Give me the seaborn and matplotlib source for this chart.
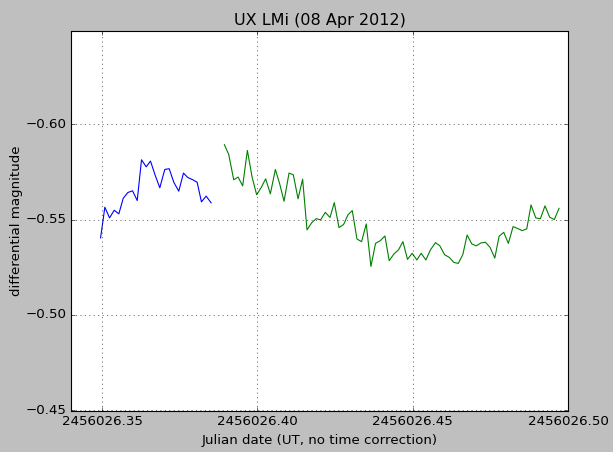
import matplotlib
matplotlib.use("Agg")
import matplotlib.pyplot as plt
import matplotlib.ticker as mticker
import seaborn as sns
import pandas as pd

# Julian date offsets from 2456026 and differential magnitudes
JD0 = 2456026.0

blue_t = [0.34952, 0.35090, 0.35241, 0.35392, 0.35540, 0.35682, 0.35830, 0.35981,
          0.36132, 0.36270, 0.36421, 0.36559, 0.36711, 0.36859, 0.37019, 0.37161,
          0.37309, 0.37469, 0.37621, 0.37759, 0.37920, 0.38061, 0.38199, 0.38350,
          0.38511]
blue_mag = [-0.5404, -0.5565, -0.5509, -0.5549, -0.5530, -0.5612, -0.5642, -0.5651,
            -0.5600, -0.5814, -0.5777, -0.5807, -0.5732, -0.5667, -0.5763, -0.5767,
            -0.5696, -0.5649, -0.5744, -0.5721, -0.5709, -0.5696, -0.5593, -0.5623,
            -0.5588]

green_t = [0.38939, 0.39077, 0.39238, 0.39379, 0.39527, 0.39678, 0.39830, 0.39977,
           0.40129, 0.40267, 0.40418, 0.40579, 0.40717, 0.40859, 0.41019, 0.41158,
           0.41309, 0.41457, 0.41598, 0.41746, 0.41897, 0.42035, 0.42186, 0.42338,
           0.42476, 0.42627, 0.42775, 0.42916, 0.43055, 0.43206, 0.43354, 0.43505,
           0.43656, 0.43804, 0.43955, 0.44106, 0.44244, 0.44395, 0.44543, 0.44685,
           0.44833, 0.44984, 0.45135, 0.45273, 0.45424, 0.45572, 0.45733, 0.45875,
           0.46029, 0.46174, 0.46325, 0.46469, 0.46614, 0.46752, 0.46904, 0.47051,
           0.47193, 0.47341, 0.47492, 0.47643, 0.47781, 0.47932, 0.48080, 0.48232,
           0.48370, 0.48521, 0.48672, 0.48810, 0.48961, 0.49109, 0.49260, 0.49412,
           0.49559, 0.49711]
green_mag = [-0.5893, -0.5842, -0.5709, -0.5723, -0.5677, -0.5863, -0.5723, -0.5630,
             -0.5670, -0.5714, -0.5635, -0.5763, -0.5688, -0.5596, -0.5744, -0.5735,
             -0.5609, -0.5712, -0.5446, -0.5483, -0.5505, -0.5498, -0.5538, -0.5511,
             -0.5589, -0.5458, -0.5474, -0.5525, -0.5547, -0.5398, -0.5384, -0.5477,
             -0.5254, -0.5375, -0.5389, -0.5414, -0.5284, -0.5319, -0.5341, -0.5384,
             -0.5291, -0.5323, -0.5288, -0.5323, -0.5288, -0.5341, -0.5379, -0.5362,
             -0.5315, -0.5302, -0.5275, -0.5270, -0.5316, -0.5419, -0.5372, -0.5362,
             -0.5377, -0.5381, -0.5354, -0.5298, -0.5412, -0.5433, -0.5375, -0.5463,
             -0.5454, -0.5442, -0.5451, -0.5577, -0.5509, -0.5504, -0.5572, -0.5512,
             -0.5500, -0.5559]

x_ticks = [0.35, 0.40, 0.45, 0.50]
y_ticks = [-0.60, -0.55, -0.50, -0.45]

plt.style.use('classic')

fig = plt.figure(figsize=(613 / 80, 452 / 80), dpi=80, facecolor='#bfbfbf')
ax = fig.add_axes([71 / 613, 1 - 411 / 452, (568 - 71) / 613, (411 - 31) / 452])

df_b = pd.DataFrame({'jd': [JD0 + t for t in blue_t], 'mag': blue_mag})
df_g = pd.DataFrame({'jd': [JD0 + t for t in green_t], 'mag': green_mag})

sns.lineplot(data=df_b, x='jd', y='mag', color='b', lw=1, sort=False, estimator=None, ax=ax)
sns.lineplot(data=df_g, x='jd', y='mag', color='g', lw=1, sort=False, estimator=None, ax=ax)

ax.set_xlim(JD0 + 0.340, JD0 + 0.500)
ax.set_ylim(-0.4495, -0.649)
ax.set_xticks([JD0 + t for t in x_ticks])
ax.set_yticks(y_ticks)
ax.xaxis.set_major_formatter(mticker.FuncFormatter(lambda v, p: '%.2f' % v))
ax.yaxis.set_major_formatter(mticker.FuncFormatter(lambda v, p: ('%.2f' % v).replace('-', '\u2212')))
ax.grid(True)

ax.set_title('UX LMi (08 Apr 2012)')
ax.set_xlabel('Julian date (UT, no time correction)')
ax.set_ylabel('differential magnitude', labelpad=2)

fig.savefig('out.png', dpi=80, facecolor=fig.get_facecolor())
